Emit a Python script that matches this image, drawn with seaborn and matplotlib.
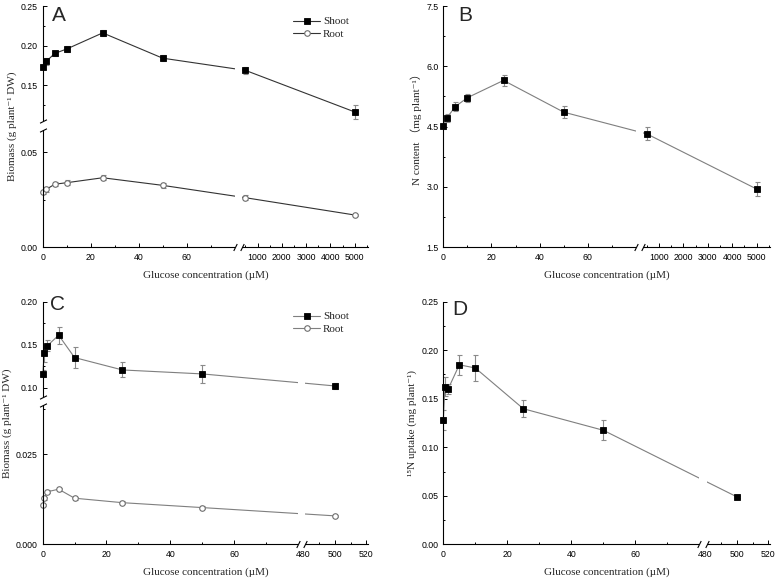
import numpy as np
import matplotlib
matplotlib.use("Agg")
import matplotlib.pyplot as plt
import seaborn as sns

# glucose levels (uM)
conc_ab = [0, 1.5, 5, 10, 25, 50, 500, 5000]
conc_cd = [0, 0.5, 1.5, 5, 10, 25, 50, 500]

# A - biomass
a_shoot = [0.173, 0.180, 0.190, 0.1956, 0.216, 0.184, 0.1686, 0.116]
a_shoot_err = [0.003, 0.0042, 0.0034, 0.0038, 0.0042, 0.0042, 0.0042, 0.0084]
a_root = [0.0293, 0.0305, 0.0332, 0.034, 0.0366, 0.0326, 0.0261, 0.017]
a_root_err = [0.0012, 0.0012, 0.0012, 0.0012, 0.0012, 0.0014, 0.0014, 0.0005]

# B - N content
b_n = [4.52, 4.72, 5.00, 5.22, 5.65, 4.86, 4.32, 2.95]
b_n_err = [0.08, 0.10, 0.12, 0.10, 0.13, 0.15, 0.16, 0.18]

# C - biomass
c_shoot = [0.116, 0.140, 0.149, 0.161, 0.135, 0.1206, 0.116, 0.102]
c_shoot_err = [0.004, 0.010, 0.006, 0.0097, 0.012, 0.0087, 0.0105, 0.003]
c_root = [0.0109, 0.0128, 0.0146, 0.0153, 0.0128, 0.01156, 0.0102, 0.0079]
c_root_err = [0.0004, 0.0004, 0.0004, 0.0004, 0.0004, 0.0004, 0.0004, 0.0003]

# D - 15N uptake
d_n15 = [0.128, 0.1624, 0.160, 0.185, 0.1817, 0.1397, 0.1175, 0.049]
d_n15_err = [0.010, 0.010, 0.005, 0.0106, 0.0137, 0.009, 0.0103, 0.001]

sns.set_style("ticks")
plt.rcParams["font.family"] = ["Liberation Sans", "DejaVu Sans"]
serif = ["Liberation Serif", "DejaVu Serif", "Noto Sans CJK SC"]

fig = plt.figure(figsize=(7.78, 5.79), dpi=100)
ax_a = fig.add_axes([0.0549, 0.5729, 0.4181, 0.4167])
ax_b = fig.add_axes([0.5698, 0.5729, 0.4199, 0.4167])
ax_c = fig.add_axes([0.0549, 0.0599, 0.4181, 0.4190])
ax_d = fig.add_axes([0.5698, 0.0599, 0.4199, 0.4190])

ERR_C = "#8a8a8a"


def piecewise(seg1, seg2, f1, gap):
    xp = [seg1[0], seg1[1], seg2[0], seg2[1]]
    fp = [0.0, f1, f1 + gap, 1.0]
    return (lambda v: np.interp(v, xp, fp), lambda u: np.interp(u, fp, xp))


def series(ax, x, y, err, kind, line_color, label=None):
    ax.errorbar(x, y, yerr=err, fmt="none", ecolor=ERR_C, elinewidth=0.8,
                capsize=1.8, capthick=0.8, zorder=1.5)
    if kind == "shoot":
        mk = dict(marker="s", markerfacecolor="black", markeredgecolor="black",
                  markeredgewidth=0.6)
    else:
        mk = dict(marker="o", markerfacecolor="white", markeredgecolor="#6e6e6e",
                  markeredgewidth=0.8)
    sns.lineplot(x=x, y=y, ax=ax, color=line_color, lw=0.8, markersize=4,
                 errorbar=None, label=label, clip_on=False, **mk)


def break_x(ax, x0, x1):
    r = ax.axvspan(x0, x1, ymin=-0.02, ymax=1, color="white", lw=0, zorder=3)
    r.set_clip_on(False)
    ax.plot([x0, x1], [0, 0], marker=[(-0.5, -1), (0.5, 1)], markersize=5,
            linestyle="none", color="black", mew=0.8, clip_on=False, zorder=4,
            transform=ax.get_xaxis_transform())


def break_y(ax, y0, y1):
    r = ax.axhspan(y0, y1, xmin=-0.02, xmax=1, color="white", lw=0, zorder=3)
    r.set_clip_on(False)
    ax.plot([0, 0], [y0, y1], marker=[(-1, -0.5), (1, 0.5)], markersize=5,
            linestyle="none", color="black", mew=0.8, clip_on=False, zorder=4,
            transform=ax.get_yaxis_transform())


# A
series(ax_a, conc_ab, a_shoot, a_shoot_err, "shoot", "#333333", "Shoot")
series(ax_a, conc_ab, a_root, a_root_err, "root", "#333333", "Root")
# B
series(ax_b, conc_ab, b_n, b_n_err, "shoot", "#7f7f7f")
# C
series(ax_c, conc_cd, c_shoot, c_shoot_err, "shoot", "#7f7f7f", "Shoot")
series(ax_c, conc_cd, c_root, c_root_err, "root", "#7f7f7f", "Root")
# D
series(ax_d, conc_cd, d_n15, d_n15_err, "shoot", "#7f7f7f")

# x scales
for ax in (ax_a, ax_b):
    ax.set_xscale("function", functions=piecewise((0, 80), (250, 5550), 0.590, 0.0144))
    ax.set_xlim(0, 5550)
    ax.set_xticks([0, 20, 40, 60, 1000, 2000, 3000, 4000, 5000],
                  labels=["0", "20", "40", "60", "1000", "2000", "3000", "4000", "5000"])
    ax.set_xticks([10, 30, 50, 70, 500, 1500, 2500, 3500, 4500, 5500], minor=True)
    break_x(ax, 80, 350)
for ax in (ax_c, ax_d):
    ax.set_xscale("function", functions=piecewise((0, 80), (478, 521), 0.784, 0.0073))
    ax.set_xlim(0, 521)
    ax.set_xticks([0, 20, 40, 60, 480, 500, 520],
                  labels=["0", "20", "40", "60", "480", "500", "520"])
    ax.set_xticks([10, 30, 50, 70, 490, 510], minor=True)
    break_x(ax, 80, 481)

# y scales
ax_a.set_yscale("function", functions=piecewise((0, 0.0635), (0.1, 0.25), 0.50, 0.0087))
ax_a.set_ylim(0, 0.25)
ax_a.set_yticks([0.0, 0.05, 0.15, 0.20, 0.25],
                labels=["0.00", "0.05", "0.15", "0.20", "0.25"])
ax_a.set_yticks([0.025, 0.125, 0.175, 0.225], minor=True)
break_y(ax_a, 0.062, 0.104)

ax_b.set_ylim(1.5, 7.5)
ax_b.set_yticks([1.5, 3.0, 4.5, 6.0, 7.5], labels=["1.5", "3.0", "4.5", "6.0", "7.5"])
ax_b.set_yticks([2.25, 3.75, 5.25, 6.75], minor=True)

ax_c.set_yscale("function", functions=piecewise((0, 0.0398), (0.087, 0.20), 0.591, 0.0087))
ax_c.set_ylim(0, 0.20)
ax_c.set_yticks([0.0, 0.025, 0.10, 0.15, 0.20],
                labels=["0.000", "0.025", "0.10", "0.15", "0.20"])
ax_c.set_yticks([0.0125, 0.0375, 0.125, 0.175], minor=True)
break_y(ax_c, 0.0387, 0.0896)

ax_d.set_ylim(0, 0.25)
ax_d.set_yticks([0, 0.05, 0.10, 0.15, 0.20, 0.25],
                labels=["0.00", "0.05", "0.10", "0.15", "0.20", "0.25"])
ax_d.set_yticks([0.025, 0.075, 0.125, 0.175, 0.225], minor=True)

ylabels = {
    ax_a: "Biomass (g plant\u207b\u00b9 DW)",
    ax_b: "N content \uff08mg plant\u207b\u00b9\uff09",
    ax_c: "Biomass (g plant\u207b\u00b9 DW)",
    ax_d: "\u00b9\u2075N uptake (mg plant\u207b\u00b9)",
}
letters = {ax_a: ("A", 0.028, 1.0), ax_b: ("B", 0.046, 1.0),
           ax_c: ("C", 0.022, 1.028), ax_d: ("D", 0.026, 1.007)}

for ax in (ax_a, ax_b, ax_c, ax_d):
    sns.despine(ax=ax)
    for s in ("left", "bottom"):
        ax.spines[s].set_linewidth(0.8)
        ax.spines[s].set_color("black")
    ax.tick_params(which="both", direction="in", width=0.7, colors="black",
                   labelsize=6.3)
    ax.tick_params(which="major", length=2.8)
    ax.tick_params(which="minor", length=1.6)
    ax.tick_params(axis="x", pad=4)
    ax.tick_params(axis="y", pad=3.5)
    ax.set_xlabel("Glucose concentration (\u00b5M)", family=serif, fontsize=8, labelpad=6)
    ax.set_ylabel(ylabels[ax], family=serif, fontsize=8, labelpad=3)
    t, lx, ly = letters[ax]
    ax.text(lx, ly, t, transform=ax.transAxes, fontsize=15, ha="left", va="top")

for ax, top in ((ax_a, 0.956), (ax_c, 0.959)):
    ax.legend(loc="upper left", bbox_to_anchor=(0.77, top), frameon=False,
              borderpad=0, borderaxespad=0, handlelength=2.4, handletextpad=0.3,
              labelspacing=0.28, prop={"family": serif, "size": 8})

fig.savefig("out.png", dpi=100)
